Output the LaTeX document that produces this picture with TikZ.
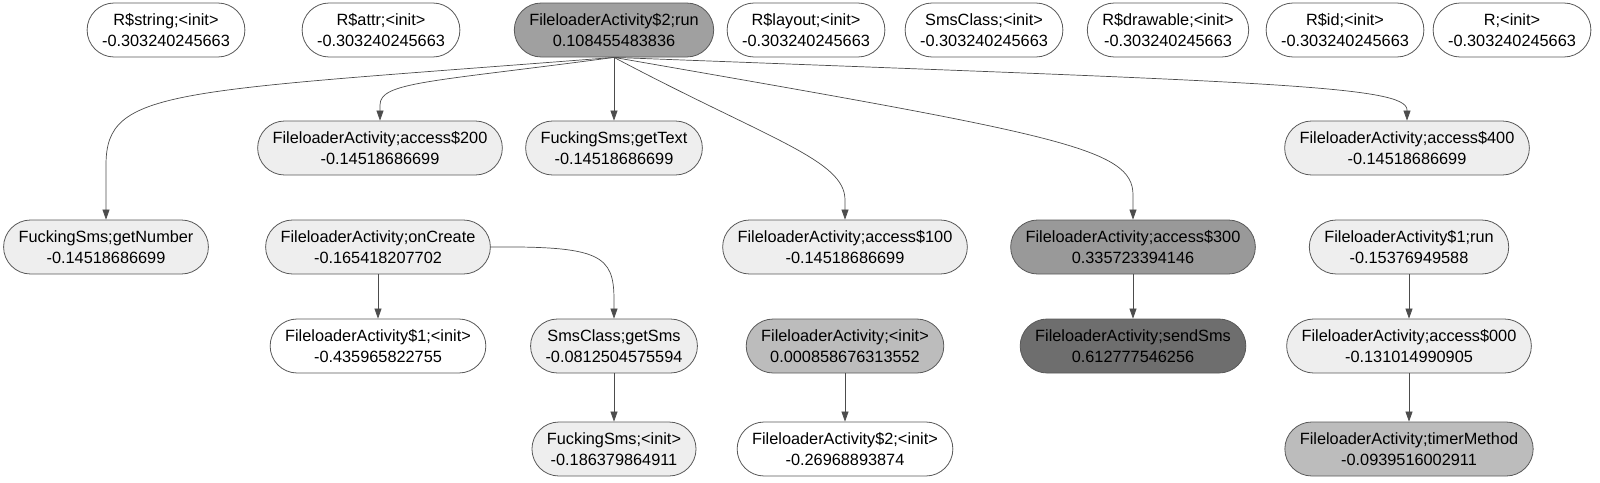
\documentclass[tikz,border=0pt]{standalone}
\usepackage{fontspec}
\setmainfont{Liberation Sans}
\usepackage{xcolor}
\usepackage{tikz}
\usetikzlibrary{arrows.meta}

\definecolor{w0}{HTML}{FFFFFF}
\definecolor{w1}{HTML}{EEEEEE}
\definecolor{w2}{HTML}{BCBCBC}
\definecolor{w3}{HTML}{A0A0A0}
\definecolor{w4}{HTML}{999999}
\definecolor{w5}{HTML}{6E6E6E}

\begin{document}
\begin{tikzpicture}[x=1pt, y=-1pt,
    every node/.style={draw=black!65, line width=0.8pt, rounded corners=27pt,
        minimum height=54pt, inner xsep=15pt, inner ysep=0pt, align=center,
        font=\fontsize{16.3}{20.5}\selectfont},
    call/.style={draw=black!70, line width=0.7pt, -{Triangle[length=10pt,width=7pt]}}]

    \useasboundingbox (0,0) rectangle (1600,482);

    % prima fila
    \node[fill=w0] (rstring) at (166,30) {R\$string;<init>\\-0.303240245663};
    \node[fill=w0] (rattr) at (381,30) {R\$attr;<init>\\-0.303240245663};
    \node[fill=w3] (run2) at (614,30) {FileloaderActivity\$2;run\\0.108455483836};
    \node[fill=w0] (rlayout) at (806,30) {R\$layout;<init>\\-0.303240245663};
    \node[fill=w0] (smsinit) at (984,30) {SmsClass;<init>\\-0.303240245663};
    \node[fill=w0] (rdraw) at (1168,30) {R\$drawable;<init>\\-0.303240245663};
    \node[fill=w0] (rid) at (1345,30) {R\$id;<init>\\-0.303240245663};
    \node[fill=w0] (rinit) at (1512,30) {R;<init>\\-0.303240245663};

    % seconda fila
    \node[fill=w1] (acc200) at (380,148) {FileloaderActivity;access\$200\\-0.14518686699};
    \node[fill=w1] (gettext) at (614,148) {FuckingSms;getText\\-0.14518686699};
    \node[fill=w1] (acc400) at (1407,148) {FileloaderActivity;access\$400\\-0.14518686699};

    % terza fila
    \node[fill=w1] (getnum) at (106,247) {FuckingSms;getNumber\\-0.14518686699};
    \node[fill=w1] (oncreate) at (378,247) {FileloaderActivity;onCreate\\-0.165418207702};
    \node[fill=w1] (acc100) at (845,247) {FileloaderActivity;access\$100\\-0.14518686699};
    \node[fill=w4] (acc300) at (1133,247) {FileloaderActivity;access\$300\\0.335723394146};
    \node[fill=w1] (run1) at (1409,247) {FileloaderActivity\$1;run\\-0.15376949588};

    % quarta fila
    \node[fill=w0] (init1) at (378,346) {FileloaderActivity\$1;<init>\\-0.435965822755};
    \node[fill=w1] (getsms) at (614,346) {SmsClass;getSms\\-0.0812504575594};
    \node[fill=w2] (fainit) at (845,346) {FileloaderActivity;<init>\\0.000858676313552};
    \node[fill=w5] (sendsms) at (1133,346) {FileloaderActivity;sendSms\\0.612777546256};
    \node[fill=w1] (acc000) at (1409,346) {FileloaderActivity;access\$000\\-0.131014990905};

    % quinta fila
    \node[fill=w1] (fsinit) at (614,449) {FuckingSms;<init>\\-0.186379864911};
    \node[fill=w0] (init2) at (845,449) {FileloaderActivity\$2;<init>\\-0.26968893874};
    \node[fill=w2] (timer) at (1409,449) {FileloaderActivity;timerMethod\\-0.0939516002911};

    % archi da run2
    \draw[call] (run2.south) .. controls (170,92) and (106,88) .. (106,165) -- (getnum.north);
    \draw[call] (run2.south) .. controls (430,82) and (380,82) .. (380,105) -- (acc200.north);
    \draw[call] (run2.south) -- (gettext.north);
    \draw[call] (run2.south) .. controls (770,140) and (845,160) .. (845,200) -- (acc100.north);
    \draw[call] (run2.south) .. controls (1060,135) and (1133,148) .. (1133,195) -- (acc300.north);
    \draw[call] (run2.south) .. controls (1260,82) and (1407,85) .. (1407,110) -- (acc400.north);

    % altri archi
    \draw[call] (oncreate) -- (init1);
    \draw[call] (oncreate.east) .. controls (600,246) and (614,255) .. (614,300) -- (getsms.north);
    \draw[call] (getsms) -- (fsinit);
    \draw[call] (fainit) -- (init2);
    \draw[call] (acc300) -- (sendsms);
    \draw[call] (run1) -- (acc000);
    \draw[call] (acc000) -- (timer);
\end{tikzpicture}
\end{document}
